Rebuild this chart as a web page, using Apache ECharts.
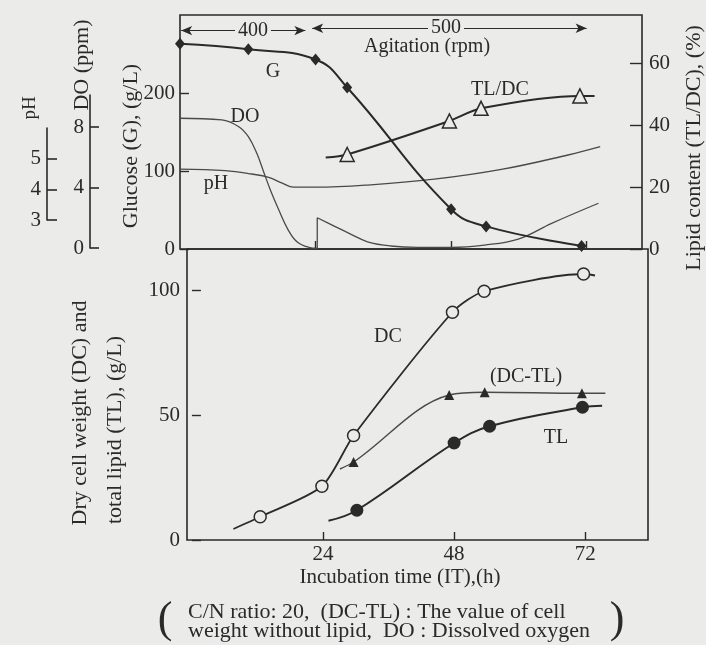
<!DOCTYPE html>
<html><head><meta charset="utf-8">
<script src="https://cdn.jsdelivr.net/npm/echarts@6/dist/echarts.min.js"></script>
<style>html,body{margin:0;padding:0;background:#ebebe9;}#c{width:706px;height:645px;}</style>
</head><body><div id="c"></div>
<script>
// ---------- DATA ----------
// Top panel, x = incubation time (h)
const glucoseHours = [0, 12.1, 24.0, 29.6, 48.0, 54.2, 71.1];
const glucoseValues = [263, 256, 243, 207, 51, 29, 4];            // g/L

const lipidHours = [29.6, 47.7, 53.3, 70.8];
const lipidContent = [30.5, 41.3, 45.4, 49.4];                    // TL/DC, %
const lipidLineStart = [25.8, 29.5];
const lipidLineEnd = [73.4, 49.4];

const doHoursA = [0, 7.4, 10.4, 12.1, 13.6, 14.8, 16.0, 17.5, 19.0, 20.7, 22.8, 24.3];
const doValuesA = [8.66, 8.55, 8.10, 7.44, 6.34, 5.12, 3.91, 2.58, 1.37, 0.48, 0.11, 0.05]; // ppm
const doHoursB = [24.3, 27.3, 30.2, 33.2, 37.3, 42.1, 48.0, 53.9, 59.9, 65.8, 74.1];
const doValuesB = [2.07, 1.52, 0.99, 0.48, 0.20, 0.11, 0.11, 0.26, 0.66, 1.70, 3.03];

const phHours = [0, 8.0, 12.7, 15.7, 18.1, 20.1, 24.0, 33.2, 45.0, 56.9, 68.7, 74.4];
const phValues = [4.66, 4.61, 4.50, 4.39, 4.20, 4.07, 4.07, 4.14, 4.33, 4.65, 5.12, 5.39];

const agitation400 = [0.2, 22.2];   // h range, 400 rpm
const agitation500 = [23.4, 72.0];  // h range, 500 rpm

// Bottom panel
const dcHours = [12.5, 23.8, 29.6, 47.7, 53.5, 71.7];
const dcValues = [9.3, 21.5, 41.8, 91.1, 99.5, 106.4];            // g/L
const dcLineStart = [7.6, 4.4];
const dcLineEnd = [73.8, 105.8];

const dcTlHours = [29.6, 47.1, 53.6, 71.4];
const dcTlValues = [31.2, 58.0, 59.1, 58.7];
const dcTlLineStart = [27.1, 28.4];
const dcTlLineEnd = [75.7, 58.7];

const tlHours = [30.2, 48.0, 54.5, 71.5];
const tlValues = [11.9, 38.8, 45.5, 53.1];
const tlLineStart = [25.0, 7.7];
const tlLineEnd = [75.1, 53.7];

// Tick labels
const timeTicks = [24, 48, 72];
const glucoseTicks = [0, 100, 200];
const lipidTicks = [0, 20, 40, 60];
const doTicks = [0, 4, 8];
const phTicks = [3, 4, 5];
const bottomTicks = [0, 50, 100];

// ---------- STYLE ----------
const BG = '#ebebe9';
const INK = '#2a2a2a';
const THIN = '#4a4a4a';
const FONT = '"Liberation Serif", "DejaVu Serif", serif';

function pts(xs, ys) { return xs.map((x, i) => [x, ys[i]]); }
function withEnds(start, xs, ys, end) {
  return [{ value: start, symbol: 'none' }].concat(pts(xs, ys), [{ value: end, symbol: 'none' }]);
}
const tickLabel = { color: INK, fontFamily: FONT, fontSize: 21 };

function hiddenX(grid, min, max) {
  return { type: 'value', gridIndex: grid, min, max, show: false };
}

const chart = echarts.init(document.getElementById('c'), null, { renderer: 'canvas' });
const option = {
  backgroundColor: BG,
  animation: false,
  grid: [
    { left: 180, top: 15, width: 462, height: 234, show: true, borderColor: INK, borderWidth: 1.6, backgroundColor: 'transparent' },
    { left: 187, top: 249, width: 461, height: 291, show: true, borderColor: INK, borderWidth: 1.6, backgroundColor: 'transparent' },
    { left: 90, top: 95, width: 1, height: 153 },
    { left: 47, top: 128, width: 1, height: 92 }
  ],
  xAxis: [
    { type: 'value', gridIndex: 0, min: 0, max: 81.8,
      axisLine: { show: false }, splitLine: { show: false },
      axisTick: { inside: true, length: 8, customValues: timeTicks, lineStyle: { color: INK, width: 1.4 } },
      axisLabel: { show: false } },
    { type: 'value', gridIndex: 1, min: -0.9, max: 83.5,
      axisLine: { show: false }, splitLine: { show: false },
      axisTick: { inside: true, length: 8, customValues: timeTicks, lineStyle: { color: INK, width: 1.4 } },
      axisLabel: Object.assign({ customValues: timeTicks, margin: 4 }, tickLabel) },
    hiddenX(2, 0, 1),
    hiddenX(3, 0, 1)
  ],
  yAxis: [
    // 0: glucose (left, top)
    { type: 'value', gridIndex: 0, position: 'left', min: 0, max: 300,
      axisLine: { show: false }, splitLine: { show: false },
      axisTick: { inside: true, length: 9, customValues: glucoseTicks, lineStyle: { color: INK, width: 1.4 } },
      axisLabel: Object.assign({ customValues: glucoseTicks, margin: 5 }, tickLabel) },
    // 1: lipid content (right, top)
    { type: 'value', gridIndex: 0, position: 'right', min: 0, max: 75.5,
      axisLine: { show: false }, splitLine: { show: false },
      axisTick: { inside: true, length: 12, customValues: lipidTicks, lineStyle: { color: INK, width: 1.4 } },
      axisLabel: Object.assign({ customValues: lipidTicks, margin: 7 }, tickLabel) },
    // 2: DO hidden scale in top panel
    { type: 'value', gridIndex: 0, min: 0, max: 15.5, show: false },
    // 3: pH hidden scale in top panel
    { type: 'value', gridIndex: 0, min: 2.055, max: 9.685, show: false },
    // 4: bottom panel
    { type: 'value', gridIndex: 1, position: 'left', min: 0, max: 116.4,
      axisLine: { show: false }, splitLine: { show: false },
      axisTick: { inside: true, length: 9, customValues: bottomTicks, lineStyle: { color: INK, width: 1.4 } },
      axisLabel: Object.assign({ customValues: bottomTicks, margin: 7 }, tickLabel) },
    // 5: outer DO axis
    { type: 'value', gridIndex: 2, position: 'left', min: 0, max: 10.13,
      axisLine: { show: true, lineStyle: { color: INK, width: 1.6 } }, splitLine: { show: false },
      axisTick: { inside: true, length: 9, customValues: doTicks, lineStyle: { color: INK, width: 1.6 } },
      axisLabel: Object.assign({ customValues: doTicks, margin: 6 }, tickLabel) },
    // 6: outer pH axis
    { type: 'value', gridIndex: 3, position: 'left', min: 3, max: 6,
      axisLine: { show: true, lineStyle: { color: INK, width: 1.6 } }, splitLine: { show: false },
      axisTick: { inside: true, length: 10, customValues: phTicks, lineStyle: { color: INK, width: 1.6 } },
      axisLabel: Object.assign({ customValues: phTicks, margin: 6 }, tickLabel) }
  ],
  series: [
    { name: 'DO-a', type: 'line', xAxisIndex: 0, yAxisIndex: 2, smooth: 0.4, showSymbol: false,
      lineStyle: { color: THIN, width: 1.3 }, data: pts(doHoursA, doValuesA) },
    { name: 'DO-step', type: 'line', xAxisIndex: 0, yAxisIndex: 2, showSymbol: false,
      lineStyle: { color: THIN, width: 1.3 },
      data: [[doHoursA[doHoursA.length - 1], doValuesA[doValuesA.length - 1]], [doHoursB[0], doValuesB[0]]] },
    { name: 'DO-b', type: 'line', xAxisIndex: 0, yAxisIndex: 2, smooth: 0.4, showSymbol: false,
      lineStyle: { color: THIN, width: 1.3 }, data: pts(doHoursB, doValuesB) },
    { name: 'pH', type: 'line', xAxisIndex: 0, yAxisIndex: 3, smooth: 0.4, showSymbol: false,
      lineStyle: { color: THIN, width: 1.3 }, data: pts(phHours, phValues) },
    { name: 'G', type: 'line', xAxisIndex: 0, yAxisIndex: 0, smooth: 0.45,
      symbol: 'diamond', symbolSize: [10, 12],
      lineStyle: { color: INK, width: 2 }, itemStyle: { color: INK },
      data: pts(glucoseHours, glucoseValues),
      markLine: { silent: true, symbol: ['arrow', 'arrow'], symbolSize: [7, 11], label: { show: false },
        lineStyle: { color: INK, width: 1.2, type: 'solid' },
        data: [
          [{ coord: [agitation400[0], 280] }, { coord: [agitation400[1], 280] }],
          [{ coord: [agitation500[0], 283] }, { coord: [agitation500[1], 283] }]
        ] } },
    { name: 'TL/DC', type: 'line', xAxisIndex: 0, yAxisIndex: 1, smooth: 0.3,
      symbol: 'triangle', symbolSize: 14,
      lineStyle: { color: INK, width: 2 }, itemStyle: { color: BG, borderColor: INK, borderWidth: 1.5 },
      data: withEnds(lipidLineStart, lipidHours, lipidContent, lipidLineEnd) },
    { name: 'DC', type: 'line', xAxisIndex: 1, yAxisIndex: 4, smooth: 0.25,
      symbol: 'circle', symbolSize: 12,
      lineStyle: { color: INK, width: 1.8 }, itemStyle: { color: BG, borderColor: INK, borderWidth: 1.5 },
      data: withEnds(dcLineStart, dcHours, dcValues, dcLineEnd) },
    { name: 'DC-TL', type: 'line', xAxisIndex: 1, yAxisIndex: 4, smooth: 0.35,
      symbol: 'triangle', symbolSize: 10,
      lineStyle: { color: THIN, width: 1.4 }, itemStyle: { color: INK },
      data: withEnds(dcTlLineStart, dcTlHours, dcTlValues, dcTlLineEnd) },
    { name: 'TL', type: 'line', xAxisIndex: 1, yAxisIndex: 4, smooth: 0.4,
      symbol: 'circle', symbolSize: 13,
      lineStyle: { color: INK, width: 2 }, itemStyle: { color: INK },
      data: withEnds(tlLineStart, tlHours, tlValues, tlLineEnd) }
  ],
  graphic: []
};

function txt(text, x, y, size, opts) {
  opts = opts || {};
  const st = { text, font: size + 'px ' + FONT, fill: INK,
    align: opts.align || 'center', verticalAlign: 'middle',
    textAlign: opts.align || 'center', textVerticalAlign: 'middle' };
  if (opts.bg) { st.backgroundColor = BG; st.padding = [0, 3]; }
  return { type: 'text', x, y, rotation: opts.rot ? Math.PI / 2 : 0, z: 100, style: st, silent: true };
}
option.graphic = [
  txt('pH', 30, 108, 19, { rot: true }),
  txt('DO (ppm)', 82, 65, 22, { rot: true }),
  txt('Glucose (G), (g/L)', 131, 146, 22, { rot: true }),
  txt('Dry cell weight (DC) and', 80, 413, 22, { rot: true }),
  txt('total lipid (TL), (g/L)', 115, 430, 22, { rot: true }),
  txt('Lipid content (TL/DC), (%)', 694, 148, 22, { rot: true }),
  txt('Incubation time (IT),(h)', 400, 577, 21),
  txt('C/N ratio: 20,  (DC-TL) : The value of cell', 188, 612, 22, { align: 'left' }),
  txt('weight without lipid,  DO : Dissolved oxygen', 188, 631, 22, { align: 'left' }),
  txt('(', 165, 620, 44),
  txt(')', 617, 620, 44),
  txt('G', 273, 72, 20),
  txt('DO', 245, 117, 20),
  txt('pH', 216, 184, 20),
  txt('TL/DC', 500, 90, 20),
  txt('Agitation (rpm)', 427, 47, 20),
  txt('400', 253, 31, 20, { bg: true }),
  txt('500', 446, 28, 20, { bg: true }),
  txt('DC', 388, 337, 20),
  txt('(DC-TL)', 526, 377, 20),
  txt('TL', 556, 438, 20)
];
chart.setOption(option);
</script></body></html>
